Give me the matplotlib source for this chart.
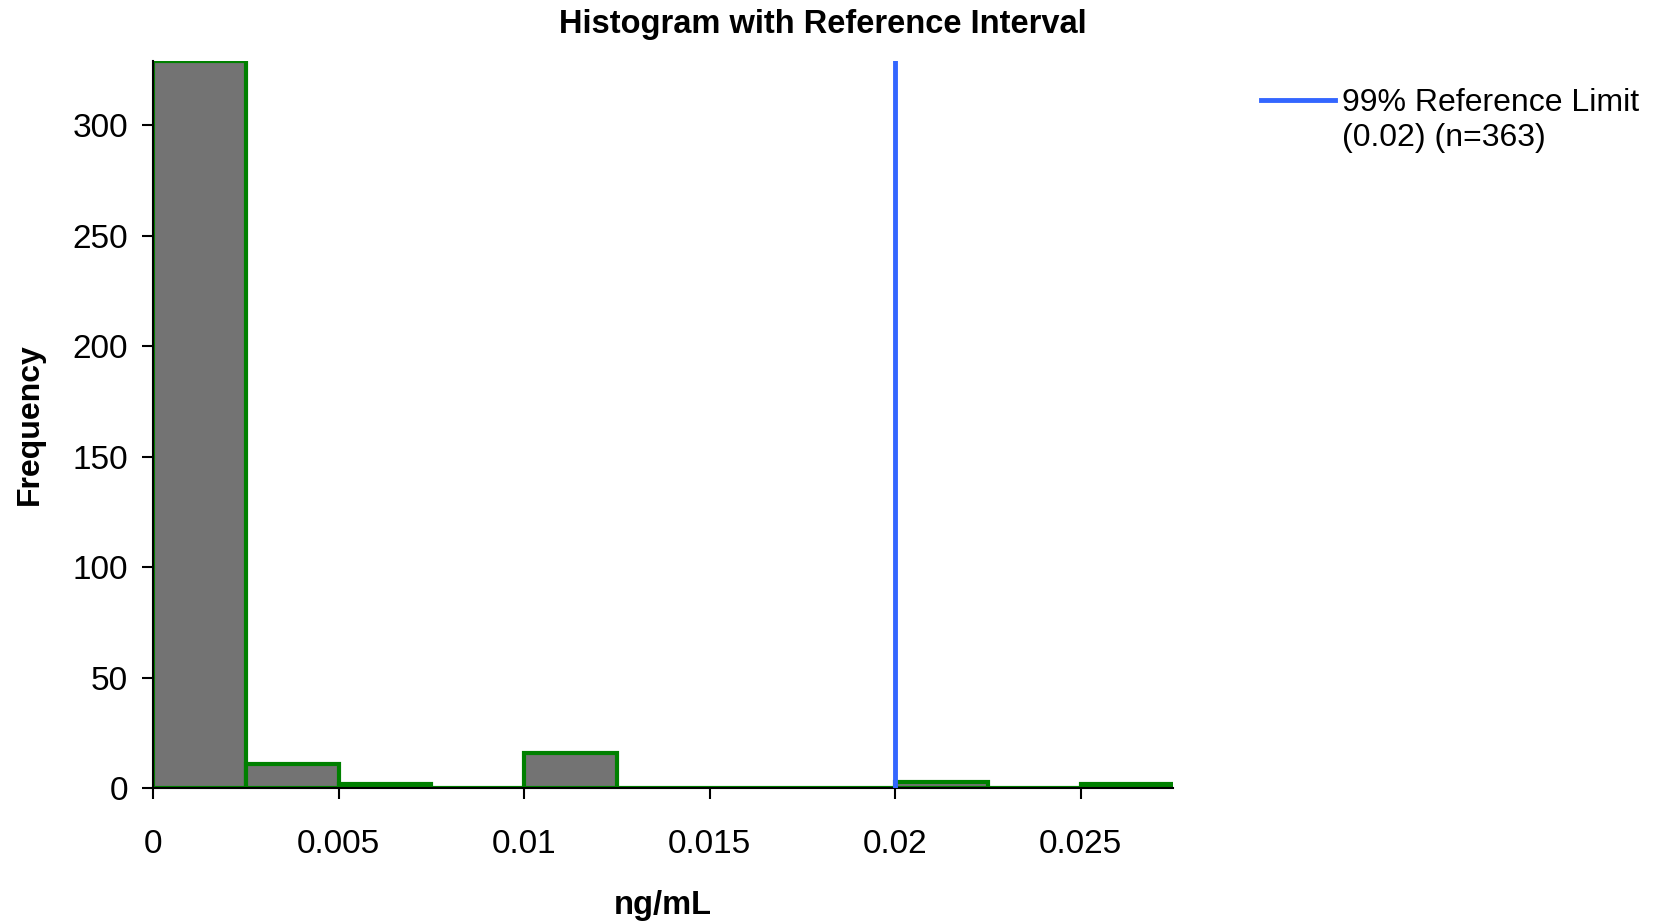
import numpy as np
import matplotlib.pyplot as plt
from matplotlib.lines import Line2D

plt.rcParams['font.family'] = ['Liberation Sans', 'DejaVu Sans']

# Histogram bins (ng/mL) and counts
bin_edges = [0, 0.0025, 0.005, 0.0075, 0.01, 0.0125, 0.015, 0.0175, 0.02, 0.0225, 0.025, 0.0275]
counts = [329, 11, 2, 0, 16, 0, 0, 0, 3, 0, 2]
ref_limit = 0.02
n_total = 363
x_ticks = [0, 0.005, 0.01, 0.015, 0.02, 0.025]
x_tick_labels = ['0', '0.005', '0.01', '0.015', '0.02', '0.025']
y_ticks = [0, 50, 100, 150, 200, 250, 300]

fig = plt.figure(figsize=(16.55, 9.23), dpi=100)
ax = fig.add_axes([0.0925, 0.146, 0.6165, 0.788])

edges = np.array(bin_edges)
ax.bar(edges[:-1], counts, width=np.diff(edges), align='edge',
       color='#737373', edgecolor='#008000', linewidth=3, zorder=2)
ref_line = ax.axvline(ref_limit, color='#3366FF', linewidth=3.5, zorder=3)

ax.set_xlim(0, 0.0275)
ax.set_ylim(0, 329)
ax.set_xticks(x_ticks)
ax.set_xticklabels(x_tick_labels)
ax.set_yticks(y_ticks)
ax.tick_params(axis='both', labelsize=24, length=8, width=1.5, direction='out')
ax.tick_params(axis='x', pad=21)
ax.tick_params(axis='y', pad=10)
for s in ['top', 'right']:
    ax.spines[s].set_visible(False)
for s in ['left', 'bottom']:
    ax.spines[s].set_linewidth(1.5)

ax.set_xlabel('ng/mL', fontsize=23.5, fontweight='bold', labelpad=22)
ax.set_ylabel('Frequency', fontsize=23, fontweight='bold', labelpad=20)
fig.text(0.497, 0.973, 'Histogram with Reference Interval', fontsize=23.5,
         fontweight='bold', ha='center', va='center')

# legend: handle sits beside the first line of the label
blank = Line2D([], [], color='none')
ax.legend([ref_line, blank],
          ['99% Reference Limit', '(%.2f) (n=%d)' % (ref_limit, n_total)],
          loc='upper left', bbox_to_anchor=(1.086, 0.963), frameon=False, fontsize=23,
          handlelength=2.3, handletextpad=0.22, borderaxespad=0, borderpad=0,
          labelspacing=0.15)

fig.savefig('out.png', dpi=100)
